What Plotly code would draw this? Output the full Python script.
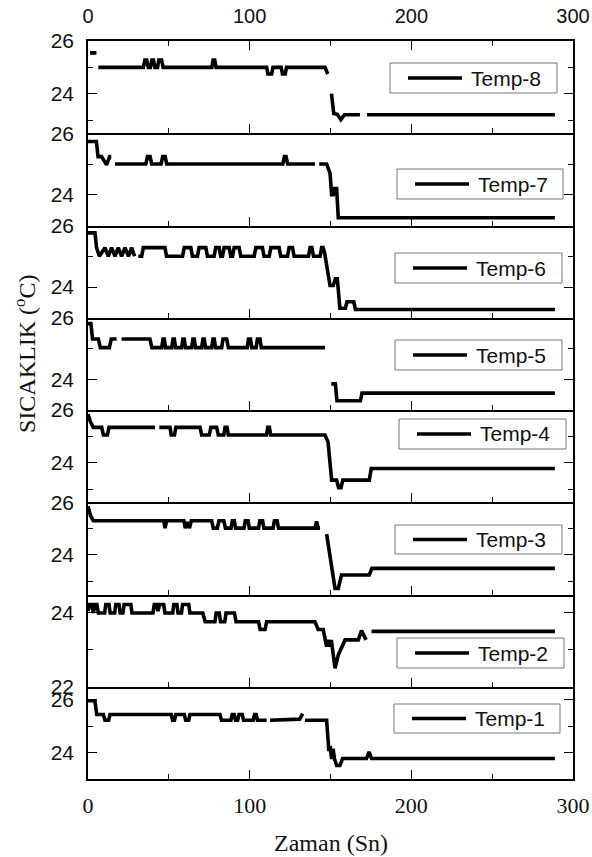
import plotly.graph_objects as go

# ---------------- data ----------------
series_names = ["Temp-8", "Temp-7", "Temp-6", "Temp-5", "Temp-4", "Temp-3", "Temp-2", "Temp-1"]

x_tick_vals = [0, 100, 200, 300]
x_minor_vals = [50, 150, 250]

t8_x = [1.2, 5.2, None, 6.4, 34.2, 35.2, 36.3, 37.3, 38.6, 39.5, 40.5, 41.4, 43.0, 43.8, 45.5, 46.5,
        76.6, 77.4, 78.4, 79.2, 110.5, 111.3, 113.6, 114.4, 119.5, 120.3, 122.0, 122.8, 146.6, 148.3, None,
        150.6, 152.0, 154.2, 156.4, 158.6, 168.2, None, 172.6, 288.8]
t8_y = [25.55, 25.55, None, 25.0, 25.0, 25.28, 25.28, 25.0, 25.0, 25.28, 25.28, 25.0, 25.0, 25.28, 25.28, 25.0,
        25.0, 25.28, 25.28, 25.0, 25.0, 24.75, 24.75, 25.0, 25.0, 24.75, 24.75, 25.0, 25.0, 24.75, None,
        24.0, 23.25, 23.22, 23.02, 23.2, 23.2, None, 23.2, 23.2]

t7_x = [0, 5.2, 6.2, 8.4, 11.5, 13.4, 14.4, None, 16.7, 35.8, 36.8, 38.4, 39.4, 45.2, 46.2, 47.7, 48.7,
        120.5, 121.5, 122.5, 123.5, 140.4, None, 143.0, 147.6, 149.7, 150.7, 151.7, 152.5, 153.8, 154.8, 288.8]
t7_y = [25.73, 25.73, 25.24, 25.24, 24.97, 25.24, 25.24, None, 25.0, 25.0, 25.24, 25.24, 25.0, 25.0, 25.24, 25.24, 25.0,
        25.0, 25.24, 25.24, 25.0, 25.0, None, 25.0, 25.0, 24.7, 24.0, 24.0, 24.2, 24.2, 23.25, 23.25]

t6_x = [0, 4.3, 5.3, 7.0, 10.5, 12.5, 14.6, 16.7, 18.7, 20.8, 22.9, 25.0, 27.0, 28.8, None,
        31.1, 33.2, 34.2, 47.6, 48.6, 58.5, 59.5, 63.6, 64.6, 67.7, 68.7, 72.9, 73.9, 78.0, 79.0, 81.1, 82.1,
        83.2, 84.2, 87.3, 88.3, 89.4, 90.4, 93.5, 94.5, 102.8, 103.8, 107.9, 108.9, 112.1, 113.1, 118.2, 119.2,
        123.4, 124.4, 126.5, 127.5, 136.4, 137.4, 138.5, 139.5, 143.6, 144.5, 145.4, 146.4,
        149.7, 151.7, 153.0, 154.2, 155.8, 159.2, 160.2, 164.4, 165.4, 288.8]
t6_y = [25.76, 25.76, 25.28, 25.0, 25.28, 25.0, 25.28, 25.0, 25.28, 25.0, 25.28, 25.0, 25.28, 25.0, None,
        25.0, 25.0, 25.28, 25.28, 25.0, 25.0, 25.28, 25.28, 25.0, 25.0, 25.28, 25.28, 25.0, 25.0, 25.28, 25.28, 25.0,
        25.0, 25.28, 25.28, 25.0, 25.0, 25.28, 25.28, 25.0, 25.0, 25.28, 25.28, 25.0, 25.0, 25.28, 25.28, 25.0,
        25.0, 25.28, 25.28, 25.0, 25.0, 25.28, 25.28, 25.0, 25.0, 25.28, 25.28, 25.1,
        24.05, 24.05, 24.27, 24.27, 23.31, 23.31, 23.52, 23.52, 23.27, 23.27]

t5_x = [0, 1.8, 2.8, 6.4, 7.6, 13.2, 14.4, 17.7, None,
        20.8, 38.3, 39.5, 45.6, 46.4, 47.2, 48.0, 51.8, 52.6, 53.4, 54.2, 57.9, 58.7, 59.5, 60.3,
        64.1, 64.9, 65.7, 66.5, 70.3, 71.1, 71.9, 72.7, 76.5, 77.3, 78.1, 78.9, 82.7, 83.5, 85.8, 86.8,
        98.5, 99.3, 100.5, 101.3, 104.0, 104.8, 106.4, 107.2, 146.6, None,
        150.5, 153.0, 154.0, 168.5, 169.5, 288.8]
t5_y = [25.81, 25.81, 25.31, 25.31, 25.03, 25.03, 25.31, 25.31, None,
        25.31, 25.31, 25.03, 25.03, 25.31, 25.31, 25.03, 25.03, 25.31, 25.31, 25.03, 25.03, 25.31, 25.31, 25.03,
        25.03, 25.31, 25.31, 25.03, 25.03, 25.31, 25.31, 25.03, 25.03, 25.31, 25.31, 25.03, 25.03, 25.31, 25.31, 25.03,
        25.03, 25.31, 25.31, 25.03, 25.03, 25.31, 25.31, 25.03, 25.03, None,
        23.85, 23.85, 23.3, 23.3, 23.55, 23.55]

t4_x = [0, 1.5, 3.3, 8.5, 9.5, 12.0, 13.0, 41.4, None, 44.1, 50.7, 51.5, 53.5, 54.3, 69.3, 70.3, 75.0, 76.0,
        79.6, 80.6, 84.0, 84.8, 86.0, 86.8, 110.4, 111.2, 112.2, 113.0, 146.6, 148.5, 150.7, 153.8, 155.0,
        156.5, 157.6, 174.0, 175.2, 288.8]
t4_y = [25.84, 25.55, 25.34, 25.34, 25.05, 25.05, 25.34, 25.34, None, 25.34, 25.34, 25.05, 25.05, 25.34, 25.34, 25.05, 25.05, 25.34,
        25.34, 25.05, 25.05, 25.34, 25.34, 25.05, 25.05, 25.34, 25.34, 25.05, 25.05, 24.78, 23.34, 23.34, 23.05,
        23.05, 23.34, 23.34, 23.78, 23.78]

t3_x = [0, 1.5, 3.3, 46.8, 47.7, 48.6, 59.3, 60.2, 61.5, 62.8, 63.9, 76.5, 77.5, 80.0, 81.0, 84.0, 85.0,
        88.5, 89.3, 90.5, 91.3, 96.5, 97.3, 99.0, 99.8, 105.5, 106.3, 108.0, 108.8, 114.5, 115.3, 117.0, 117.8,
        140.4, 141.4, 142.4, 143.5, None, 147.6, 151.3, 152.8, 154.8, 156.8, 174.0, 175.6, 288.8]
t3_y = [25.85, 25.5, 25.3, 25.3, 25.02, 25.3, 25.3, 25.02, 25.25, 25.02, 25.3, 25.3, 25.02, 25.02, 25.3, 25.3, 25.02,
        25.02, 25.3, 25.3, 25.02, 25.02, 25.3, 25.3, 25.02, 25.02, 25.3, 25.3, 25.02, 25.02, 25.3, 25.3, 25.02,
        25.02, 25.27, 25.02, 25.02, None, 24.79, 23.24, 22.73, 22.73, 23.24, 23.24, 23.49, 23.49]

t2_x = [0, 1.0, 2.5, 3.3, 4.3, 5.5, 6.4, 10.3, 11.0, 13.0, 13.7, 16.5, 17.2, 19.2, 19.9, 21.6, 22.3, 26.5, 27.2,
        40.2, 41.0, 42.5, 43.3, 44.3, 46.8, 47.6, 52.4, 53.1, 55.0, 55.7, 57.8, 58.5, 62.3, 63.0,
        71.0, 72.5, 78.5, 79.3, 81.2, 82.0, 84.6, 85.4, 90.6, 91.6, 105.5, 106.5, 109.5, 110.5,
        140.4, 142.4, 145.5, 147.6, 148.5, 149.5, 150.5, 152.8, 154.8, 159.0, 167.2, 169.2, 172.0, None,
        175.4, 288.8]
t2_y = [24.05, 24.23, 24.23, 24.0, 24.23, 24.23, 24.0, 24.0, 24.23, 24.23, 24.0, 24.0, 24.23, 24.23, 24.0, 24.0, 24.23, 24.23, 24.0,
        24.0, 24.23, 24.23, 24.05, 24.23, 24.23, 24.0, 24.0, 24.23, 24.23, 24.0, 24.0, 24.23, 24.23, 24.0,
        24.0, 23.76, 23.76, 24.0, 24.0, 23.76, 23.76, 24.0, 24.0, 23.76, 23.76, 23.55, 23.55, 23.76,
        23.76, 23.55, 23.55, 23.09, 23.27, 23.09, 23.27, 22.5, 22.86, 23.27, 23.27, 23.52, 23.27, None,
        23.5, 23.5]

t1_x = [0, 4.3, 5.4, 9.5, 10.5, 12.8, 13.6, 51.5, 52.3, 53.5, 54.3, 59.6, 60.4, 62.3, 63.1, 81.6, 82.6,
        88.4, 89.2, 90.4, 91.2, 92.6, 93.4, 95.4, 96.2, 102.2, 103.0, 104.0, 104.8, 110.5, None,
        112.6, 131.0, 132.8, None, 134.2, 147.6, 149.0, 149.8, 150.7, 151.6, 152.5, 153.8, 155.8, 157.5,
        172.3, 173.8, 175.4, 288.8]
t1_y = [25.97, 25.97, 25.45, 25.45, 25.23, 25.23, 25.45, 25.45, 25.23, 25.23, 25.45, 25.45, 25.23, 25.23, 25.45, 25.45, 25.23,
        25.23, 25.45, 25.45, 25.23, 25.23, 25.45, 25.45, 25.23, 25.23, 25.45, 25.45, 25.23, 25.23, None,
        25.23, 25.27, 25.48, None, 25.23, 25.23, 24.06, 24.25, 23.76, 24.15, 23.76, 23.51, 23.51, 23.78,
        23.78, 24.03, 23.78, 23.78]

series_x = [t8_x, t7_x, t6_x, t5_x, t4_x, t3_x, t2_x, t1_x]
series_y = [t8_y, t7_y, t6_y, t5_y, t4_y, t3_y, t2_y, t1_y]

y_ranges = [[22.5, 26], [23, 26], [23, 26], [23, 26], [22.5, 26], [22.5, 26], [22, 24.5], [23, 26.5]]
y_major = [[24, 26], [24, 26], [24, 26], [24, 26], [24, 26], [24, 26], [22, 24], [24, 26]]
y_minor = [[23, 25], [25], [25], [25], [23, 25], [23, 25], [23], [25]]

# legend boxes (pixel positions in the 592x857 page): x0, x1, y0, y1
legend_boxes = [(390, 557, 63, 93), (397, 563, 169, 199), (395, 562, 253, 283), (395, 562, 340, 370),
                (399, 566, 419, 449), (395, 562, 525, 554), (397, 564, 638, 668), (394, 560, 704, 733)]

# ---------------- figure ----------------
W, H = 592, 857
ML, MR, MT, MB = 88, 19, 41, 78
PW, PH = W - ML - MR, H - MT - MB


def px2x(px):
    return (px - ML) / PW


def px2y(py):
    return (H - MB - py) / PH


n = len(series_names)
fig = go.Figure()
layout = {}
axis_line = dict(showline=True, linecolor="black", linewidth=1.6,
                 ticks="inside", tickcolor="black", tickwidth=1.4, showgrid=False, zeroline=False)

for i in range(n):
    k = i + 1
    xa = "x" if k == 1 else f"x{k}"
    ya = "y" if k == 1 else f"y{k}"
    fig.add_trace(go.Scatter(x=series_x[i], y=series_y[i], mode="lines", name=series_names[i],
                             line=dict(color="black", width=3.6), showlegend=False,
                             xaxis=xa, yaxis=ya))
    d0 = 1 - (i + 1) / n
    d1 = 1 - i / n
    xdict = dict(axis_line, domain=[0, 1], anchor=ya, range=[0, 300], tickvals=x_tick_vals,
                 ticklen=9, minor=dict(tickvals=x_minor_vals, ticks="inside", ticklen=5,
                                       tickcolor="black", tickwidth=1.4),
                 showticklabels=False, mirror=False)
    if k == 1:
        xdict.update(side="top", mirror="allticks", showticklabels=True, ticklabelstandoff=8,
                     tickfont=dict(family="Liberation Sans, Arial", size=20, color="#111"))
    if k == n:
        xdict.update(showticklabels=True, ticklabelstandoff=6,
                     tickfont=dict(family="Liberation Serif, Times New Roman", size=22, color="#111"))
    if k > 1:
        xdict["matches"] = "x"
    layout["xaxis" if k == 1 else f"xaxis{k}"] = xdict
    ydict = dict(axis_line, domain=[d0, d1], anchor=xa, range=y_ranges[i], tickvals=y_major[i],
                 mirror="allticks", ticklen=9,
                 minor=dict(tickvals=y_minor[i], ticks="inside", ticklen=5,
                            tickcolor="black", tickwidth=1.4),
                 ticklabelstandoff=8,
                 tickfont=dict(family="Liberation Sans, Arial", size=21, color="#111"))
    layout["yaxis" if k == 1 else f"yaxis{k}"] = ydict

shapes = []
annotations = []
for i, (bx0, bx1, by0, by1) in enumerate(legend_boxes):
    shapes.append(dict(type="rect", xref="paper", yref="paper", x0=px2x(bx0), x1=px2x(bx1),
                       y0=px2y(by1), y1=px2y(by0), line=dict(color="#777", width=1),
                       fillcolor="white", layer="above"))
    ym = px2y((by0 + by1) / 2)
    shapes.append(dict(type="line", xref="paper", yref="paper", x0=px2x(bx0 + 18), x1=px2x(bx0 + 72),
                       y0=ym, y1=ym, line=dict(color="black", width=3.6), layer="above"))
    annotations.append(dict(text=series_names[i], xref="paper", yref="paper", x=px2x(bx0 + 79), y=ym,
                            xanchor="left", yanchor="middle", showarrow=False,
                            font=dict(family="Liberation Sans, Arial", size=21, color="#111")))

annotations.append(dict(text="SICAKLIK (<sup>o</sup>C)", xref="paper", yref="paper",
                        x=px2x(25), y=px2y(354), textangle=-90, showarrow=False,
                        xanchor="center", yanchor="middle",
                        font=dict(family="Liberation Serif, Times New Roman", size=24, color="#111")))
annotations.append(dict(text="Zaman (Sn)", xref="paper", yref="paper",
                        x=px2x(330.5), y=px2y(843), showarrow=False,
                        xanchor="center", yanchor="middle",
                        font=dict(family="Liberation Serif, Times New Roman", size=24, color="#111")))

fig.update_layout(width=W, height=H, margin=dict(l=ML, r=MR, t=MT, b=MB, autoexpand=False),
                  paper_bgcolor="white", plot_bgcolor="white", showlegend=False,
                  shapes=shapes, annotations=annotations, **layout)

fig.write_html("out.html", config={"displayModeBar": False},
               post_script="document.body.style.margin='0';document.body.style.overflow='hidden';")
